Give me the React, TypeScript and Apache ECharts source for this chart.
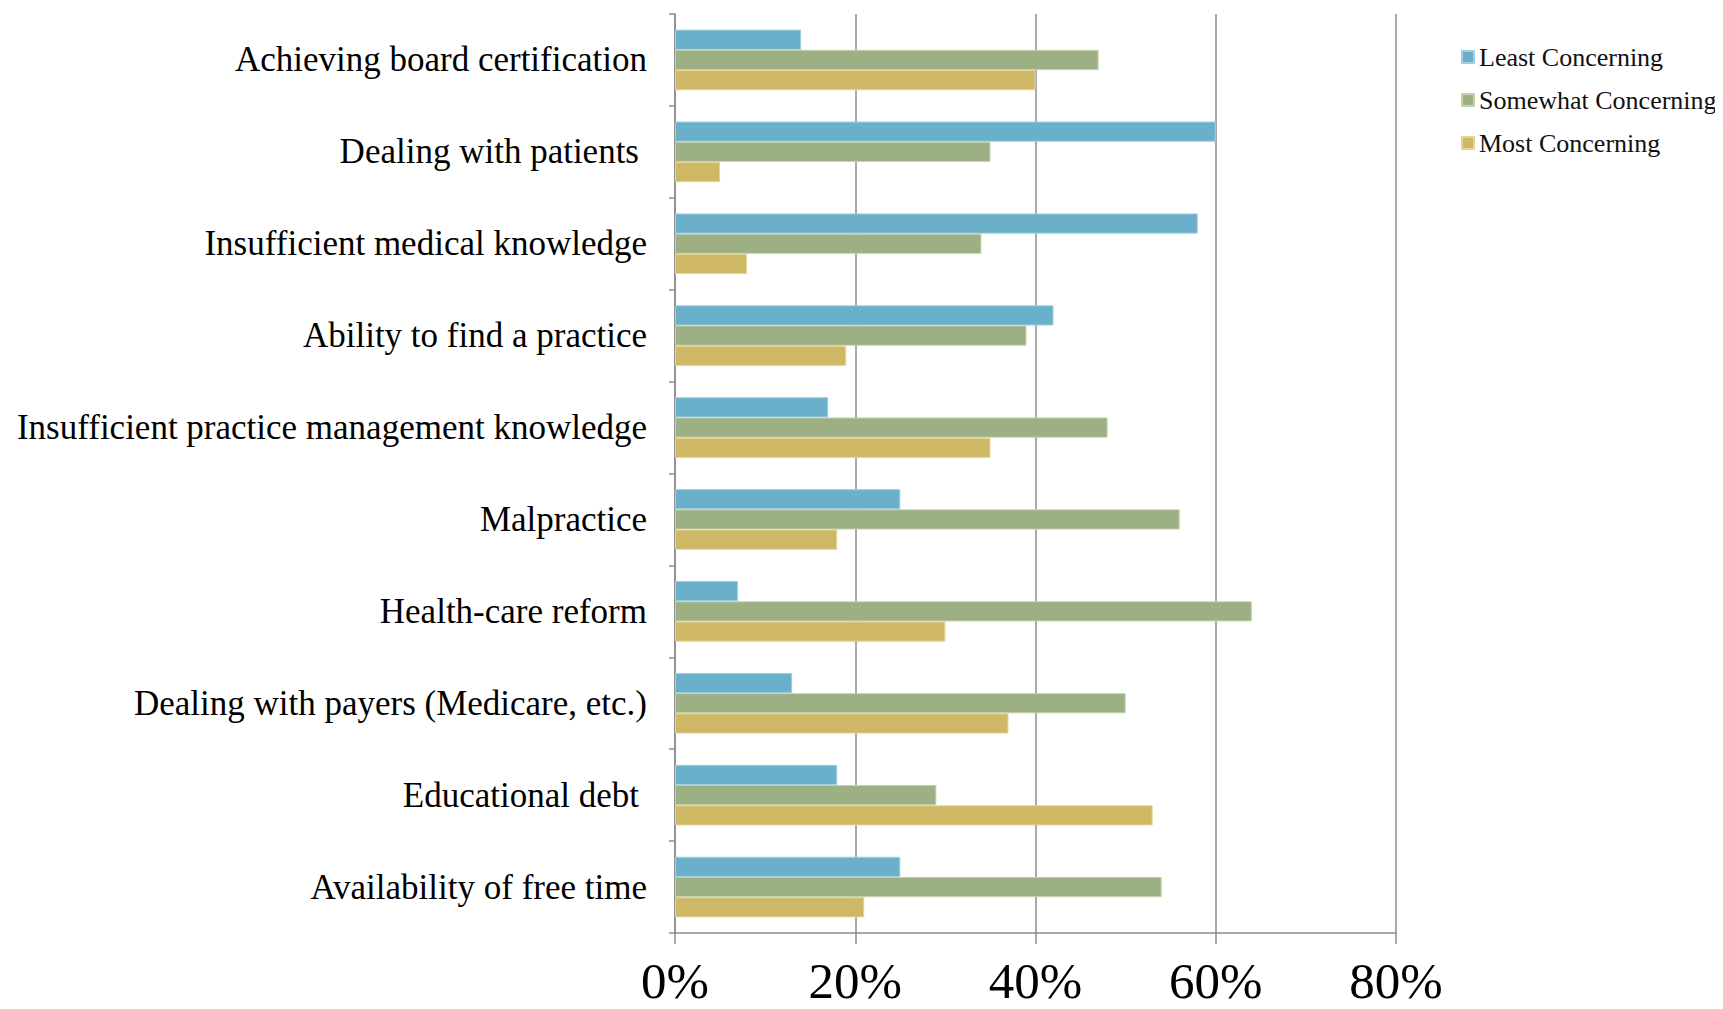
import React, { useEffect, useRef } from "react";
import * as echarts from "echarts";

const categories = [
  "Achieving board certification",
  "Dealing with patients",
  "Insufficient medical knowledge",
  "Ability to find a practice",
  "Insufficient practice management knowledge",
  "Malpractice",
  "Health-care reform",
  "Dealing with payers (Medicare, etc.)",
  "Educational debt",
  "Availability of free time",
];
const paddedLabels = ["Dealing with patients", "Educational debt"];

const leastConcerning = [14, 60, 58, 42, 17, 25, 7, 13, 18, 25];
const somewhatConcerning = [47, 35, 34, 39, 48, 56, 64, 50, 29, 54];
const mostConcerning = [40, 5, 8, 19, 35, 18, 30, 37, 53, 21];

const seriesNames = ["Least Concerning", "Somewhat Concerning", "Most Concerning"];
const colors = ["#6AB0CB", "#9DB083", "#CEB865"];
const borders = ["#9fd0e2", "#c3d3ae", "#e6d597"];
const xTicks = [0, 20, 40, 60, 80];

export default function App() {
  const ref = useRef<HTMLDivElement>(null);
  useEffect(() => {
    if (!ref.current) return;
    const chart = echarts.init(ref.current, undefined, { renderer: "svg" });
    const serif = "'Liberation Serif', 'DejaVu Serif', serif";
    const values = [leastConcerning, somewhatConcerning, mostConcerning];
    chart.setOption({
      animation: false,
      backgroundColor: "#ffffff",
      legend: {
        orient: "vertical",
        left: 1456,
        top: 39,
        itemWidth: 12,
        itemHeight: 12,
        itemGap: 17,
        icon: "rect",
        data: seriesNames,
        textStyle: { fontFamily: serif, fontSize: 26, color: "#111" },
      },
      grid: { left: 675, right: 327, top: 14, bottom: 76, containLabel: false },
      xAxis: {
        type: "value",
        min: xTicks[0],
        max: xTicks[xTicks.length - 1],
        interval: 20,
        axisLine: { show: true, lineStyle: { color: "#8c8c8c", width: 1.5 } },
        axisTick: { show: true, length: 11, lineStyle: { color: "#8c8c8c", width: 1.5 } },
        splitLine: { show: true, lineStyle: { color: "#8c8c8c", width: 1.5 } },
        axisLabel: {
          formatter: (v: number) => v + "%",
          fontFamily: serif,
          fontSize: 51,
          color: "#000",
          margin: 22,
        },
      },
      yAxis: {
        type: "category",
        inverse: true,
        data: categories,
        axisLine: { show: true, lineStyle: { color: "#8c8c8c", width: 1.5 } },
        axisTick: { show: true, length: 6, lineStyle: { color: "#8c8c8c", width: 1.5 } },
        axisLabel: {
          fontFamily: serif,
          fontSize: 35,
          color: "#000",
          margin: 28,
          formatter: (v: string) => (paddedLabels.includes(v) ? "{p|" + v + "}" : v),
          rich: {
            p: { fontFamily: serif, fontSize: 35, color: "#000", padding: [0, 8, 0, 0] },
          },
        },
      },
      series: seriesNames.map((name, i) => ({
        name,
        type: "bar",
        data: values[i],
        barGap: "0%",
        barCategoryGap: "34%",
        itemStyle: { color: colors[i], borderColor: borders[i], borderWidth: 1 },
      })),
    });
    return () => chart.dispose();
  }, []);
  return <div ref={ref} style={{ width: 1723, height: 1009, margin: -8 }} />;
}
